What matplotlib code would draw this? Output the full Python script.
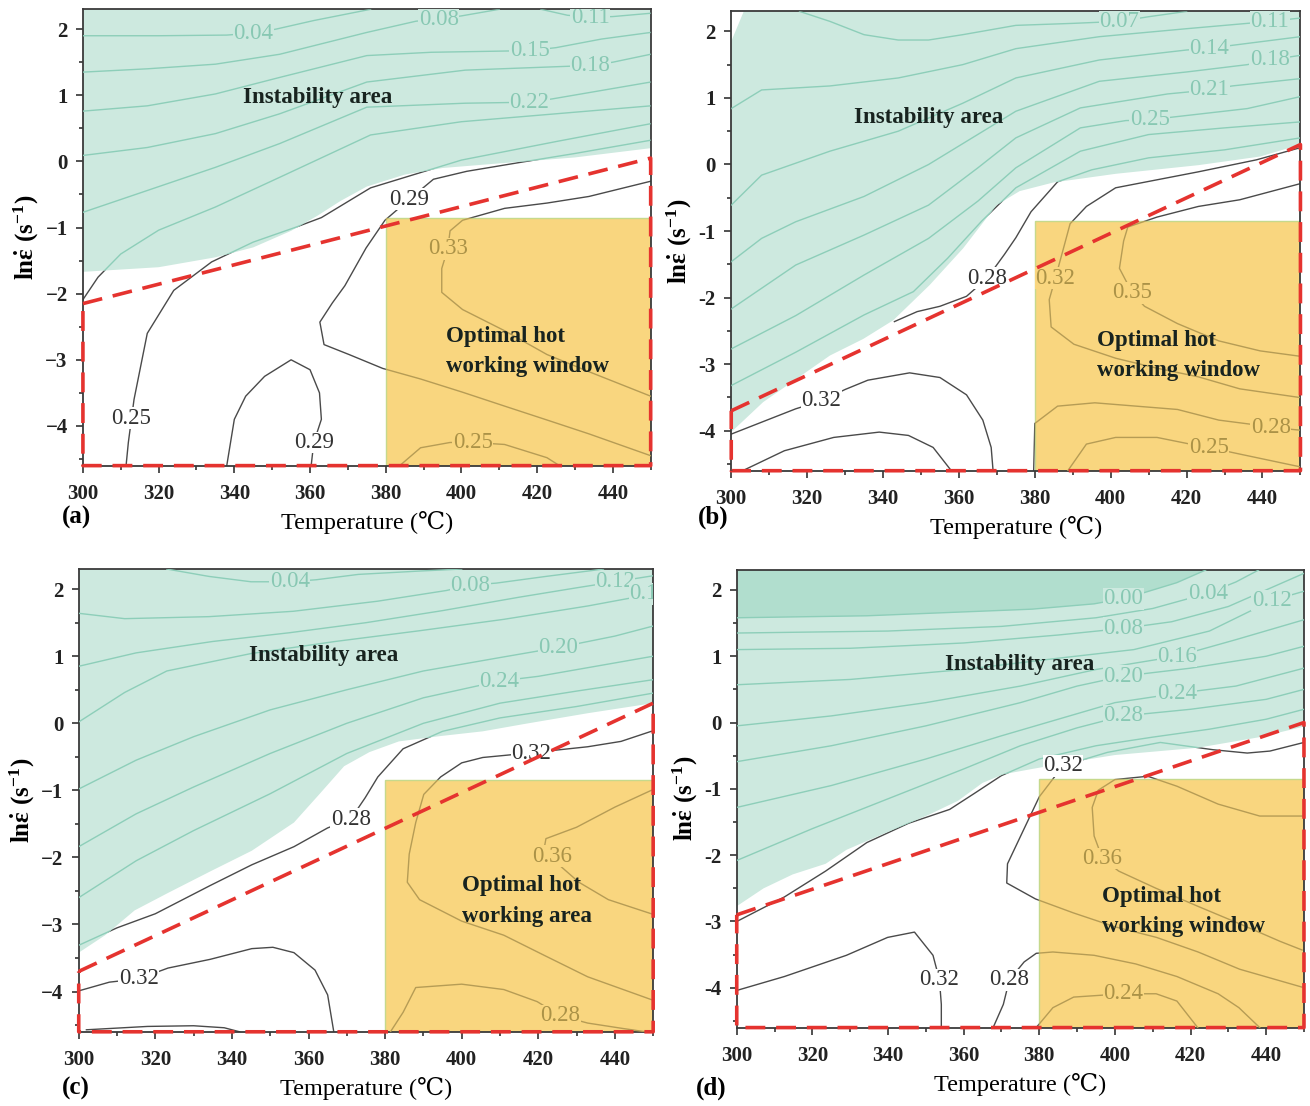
import matplotlib
matplotlib.use('Agg')
import numpy as np
import matplotlib.pyplot as plt
from matplotlib.patches import Polygon, Rectangle
from matplotlib.ticker import MultipleLocator, FuncFormatter

plt.rcParams['font.family'] = ['Liberation Serif', 'DejaVu Serif']
plt.rcParams['mathtext.fontset'] = 'custom'
plt.rcParams['mathtext.rm'] = 'Liberation Serif:bold'
plt.rcParams['mathtext.it'] = 'Liberation Serif:bold'
plt.rcParams['mathtext.bf'] = 'Liberation Serif:bold'

# ---------------- data ----------------
# temperature (C) / ln strain rate pairs for each efficiency contour

window_T = (380, 450)          # optimal hot working window
window_L = (-4.6, -0.85)

# ---- (a)
a_lines = [
    ([300, 320, 338, 345, 351, 361, 376], [1.9, 1.9, 1.91, 1.94, 2.0, 2.13, 2.3]),
    ([300, 317, 335, 352, 375, 388, 394, 400, 410], [1.35, 1.4, 1.47, 1.62, 1.95, 2.12, 2.15, 2.2, 2.3]),
    ([421, 428, 434, 440, 450], [2.3, 2.21, 2.18, 2.19, 2.24]),
    ([300, 317, 335, 352, 375, 392, 418, 425, 437, 450], [0.76, 0.84, 1.02, 1.27, 1.6, 1.65, 1.675, 1.72, 1.85, 1.95]),
    ([300, 317, 335, 352, 375, 401, 429, 434, 440, 450], [0.09, 0.21, 0.42, 0.72, 1.2, 1.38, 1.44, 1.45, 1.5, 1.62]),
    ([300, 317, 335, 352, 375, 401, 418, 424, 450], [-0.77, -0.44, -0.09, 0.27, 0.82, 0.88, 0.895, 0.945, 1.2]),
    ([300, 304, 310, 320, 335, 352, 376, 400, 425, 450], [-2.09, -1.75, -1.4, -1.04, -0.69, -0.24, 0.4, 0.6, 0.72, 0.84]),
    ([311.4, 312, 313.5, 317, 324, 334, 345, 356, 363, 376, 400, 425, 450],
     [-4.6, -4.25, -3.6, -2.6, -1.95, -1.52, -1.22, -1.0, -0.85, -0.4, 0.02, 0.3, 0.57]),
    ([450, 430, 415, 401.4, 392.6, 386.3, 379.8, 374.8, 369.2, 365.9, 362.6, 363.7, 370.3, 379.2, 389.2, 400.3, 411.4, 422.6, 433.7, 450],
     [0.32, 0.12, -0.02, -0.15, -0.27, -0.57, -0.89, -1.31, -1.88, -2.14, -2.43, -2.77, -2.92, -3.13, -3.29, -3.49, -3.7, -3.91, -4.12, -4.45]),
    ([450, 433.7, 422.6, 411.4, 400.3, 397, 396.4, 394.8, 394.8, 400.3, 411.4, 422.6, 433.7, 450],
     [-0.3, -0.53, -0.63, -0.71, -0.89, -1.05, -1.32, -1.62, -1.98, -2.24, -2.56, -2.92, -3.18, -3.55]),
    ([338, 340, 343, 348, 355, 360, 362.5, 363, 361, 360.3], [-4.6, -3.9, -3.55, -3.25, -3.0, -3.15, -3.5, -3.9, -4.25, -4.6]),
    ([383.7, 389.2, 397, 403, 411.4, 422.6, 425.9], [-4.6, -4.33, -4.25, -4.25, -4.28, -4.48, -4.6]),
]
a_teal_T = [300, 320, 335, 345, 355, 362, 368, 375, 385, 395, 410, 430, 450, 450, 300]
a_teal_L = [-1.67, -1.6, -1.45, -1.3, -1.05, -0.82, -0.6, -0.38, -0.2, -0.1, -0.03, 0.06, 0.2, 2.3, 2.3]
a_labels = [('0.04', 345, 1.93, 't'), ('0.08', 394, 2.15, 't'), ('0.11', 434, 2.18, 't'),
            ('0.15', 418, 1.675, 't'), ('0.18', 434, 1.45, 't'), ('0.22', 418, 0.895, 't'),
            ('0.29', 386.3, -0.57, 'w'), ('0.25', 312.8, -3.88, 'w'), ('0.29', 361, -4.25, 'w'),
            ('0.33', 396.4, -1.32, 'o'), ('0.25', 403, -4.25, 'o')]
a_safe_T = [300, 450, 450, 300, 300]
a_safe_L = [-2.15, 0.05, -4.6, -4.6, -2.15]

# ---- (b)
b_lines = [
    ([318, 326, 335, 344, 352, 361, 375, 390, 402.3, 410, 420], [2.3, 2.15, 1.95, 1.87, 1.87, 1.95, 2.09, 2.12, 2.15, 2.22, 2.3]),
    ([300, 308, 326, 344, 361, 375, 397, 420, 436, 441.9, 450], [0.84, 1.12, 1.18, 1.3, 1.5, 1.74, 1.92, 2.04, 2.12, 2.15, 2.2]),
    ([300, 308, 326, 344, 361, 375, 397, 420, 426, 432, 450], [-0.61, -0.16, 0.2, 0.5, 0.92, 1.3, 1.57, 1.72, 1.745, 1.79, 1.92]),
    ([300, 308, 317, 335, 352, 375, 397, 420, 436, 441.9, 450], [-1.46, -1.11, -0.86, -0.48, 0.0, 0.8, 1.25, 1.39, 1.5, 1.57, 1.64]),
    ([300, 317, 335, 352, 365, 375, 392, 415, 426, 432, 450], [-2.17, -1.51, -1.06, -0.61, -0.05, 0.4, 0.85, 1.06, 1.12, 1.18, 1.29]),
    ([300, 317, 335, 352, 365, 375, 392, 404, 410.3, 416, 436, 450], [-2.77, -2.27, -1.66, -1.11, -0.55, -0.05, 0.55, 0.66, 0.67, 0.71, 0.84, 1.02]),
    ([300, 317, 335, 348, 357, 366, 375, 392, 410, 430, 450], [-3.32, -2.82, -2.26, -1.91, -1.41, -0.85, -0.35, 0.2, 0.45, 0.55, 0.64]),
    ([343, 349, 355, 362, 367.4, 372, 375, 379, 386, 395, 410, 430, 450],
     [-2.36, -2.21, -2.13, -1.98, -1.71, -1.35, -1.1, -0.71, -0.26, -0.08, 0.1, 0.22, 0.4]),
    ([300, 308.5, 317, 323.8, 330, 336, 347, 355, 362, 366.3, 368.5, 369],
     [-4.05, -3.86, -3.67, -3.55, -3.38, -3.24, -3.13, -3.2, -3.46, -3.84, -4.25, -4.6]),
    ([303, 314, 327, 339, 346.7, 353.2, 358], [-4.6, -4.3, -4.1, -4.02, -4.07, -4.25, -4.6]),
    ([379.7, 380, 386, 395.8, 406.7, 417.6, 428.5, 439.4, 442.2, 449.8], [-4.6, -3.89, -3.63, -3.58, -3.63, -3.68, -3.84, -3.92, -3.95, -3.99]),
    ([388.7, 393.6, 401.3, 412.2, 420.9, 425.8, 434, 449.8], [-4.6, -4.2, -4.1, -4.1, -4.2, -4.25, -4.35, -4.54]),
    ([449.8, 438.4, 423.1, 401.3, 393.6, 389.3, 387.6, 385.4, 383.8, 384.3, 390.3, 401.3, 412.2, 423.1, 434, 449.8],
     [0.25, 0.07, -0.11, -0.35, -0.63, -0.89, -1.25, -1.71, -2.03, -2.44, -2.7, -2.91, -3.06, -3.19, -3.37, -3.5]),
    ([449.8, 434, 423.1, 412.2, 404.5, 403.4, 402.3, 405.7, 408.9, 417.6, 428.5, 439.4, 449.8],
     [-0.29, -0.53, -0.63, -0.79, -0.94, -1.15, -1.56, -1.93, -2.13, -2.39, -2.65, -2.8, -2.88]),
]
b_teal_T = [300, 308.4, 317.2, 326, 334.8, 342.7, 352.3, 361.1, 369.9, 376, 384.9, 401.3, 423.1, 439.4, 450, 450, 303.3, 300]
b_teal_L = [-4.02, -3.57, -3.22, -2.87, -2.62, -2.34, -1.81, -1.26, -0.61, -0.4, -0.27, -0.14, -0.01, 0.12, 0.3, 2.3, 2.3, 1.85]
b_labels = [('0.07', 402.3, 2.15, 't'), ('0.11', 441.9, 2.15, 't'), ('0.14', 426, 1.745, 't'),
            ('0.18', 441.9, 1.57, 't'), ('0.21', 426, 1.12, 't'), ('0.25', 410.3, 0.67, 't'),
            ('0.28', 367.4, -1.71, 'w'), ('0.32', 323.8, -3.55, 'w'),
            ('0.32', 385.4, -1.71, 'o'), ('0.35', 405.7, -1.93, 'o'), ('0.28', 442.2, -3.95, 'o'),
            ('0.25', 425.8, -4.25, 'o')]
b_safe_T = [300, 450, 450, 300, 300]
b_safe_L = [-3.7, 0.3, -4.6, -4.6, -3.7]

# ---- (c)
c_lines = [
    ([323, 334, 345, 355, 362, 373, 389, 400], [2.3, 2.19, 2.11, 2.11, 2.14, 2.22, 2.27, 2.3]),
    ([300, 312, 334, 356, 378, 396, 402.2, 409, 422, 433, 437], [1.64, 1.56, 1.59, 1.67, 1.82, 1.98, 2.06, 2.09, 2.19, 2.27, 2.3]),
    ([300, 315, 335, 355, 375, 395, 415, 430, 440, 450], [0.85, 1.05, 1.22, 1.35, 1.5, 1.68, 1.88, 2.02, 2.11, 2.2]),
    ([300, 312, 323, 345, 367, 389, 411, 433, 450], [0.02, 0.46, 0.78, 1.04, 1.22, 1.38, 1.55, 1.75, 1.93]),
    ([300, 315, 330, 350, 370, 390, 410, 425.2, 440, 450], [-0.98, -0.55, -0.2, 0.2, 0.5, 0.78, 0.98, 1.13, 1.3, 1.45]),
    ([300, 315, 330, 350, 370, 390, 409.9, 420, 435, 450], [-1.84, -1.35, -0.95, -0.45, 0.0, 0.38, 0.63, 0.7, 0.85, 1.0]),
    ([300, 315, 330, 350, 370, 390, 410, 430, 450], [-2.6, -2.05, -1.6, -1.05, -0.45, 0.0, 0.3, 0.48, 0.65]),
    ([300, 310, 320, 334.3, 345.2, 356.2, 365, 371, 374.8, 378.1, 384.7, 395, 410, 430, 450],
     [-3.31, -3.05, -2.84, -2.42, -2.11, -1.84, -1.56, -1.43, -1.11, -0.8, -0.38, -0.12, 0.08, 0.25, 0.45]),
    ([449.5, 441.6, 432.9, 418.1, 411, 405.5, 400, 394.5, 390.1, 388, 386.3, 385.8, 389, 400, 411, 421.9, 432.9, 449.5],
     [-0.12, -0.27, -0.35, -0.44, -0.48, -0.51, -0.59, -0.8, -1.06, -1.48, -1.95, -2.37, -2.63, -2.95, -3.16, -3.47, -3.78, -4.12]),
    ([449.5, 440, 430, 422, 421.5, 424, 430.6, 438.3, 449.5], [-1.0, -1.25, -1.55, -1.72, -1.88, -2.04, -2.37, -2.63, -2.84]),
    ([300, 308, 315.7, 323.3, 334.3, 345.2, 350.7, 356.2, 361.7, 365, 366.6],
     [-3.99, -3.86, -3.81, -3.65, -3.52, -3.36, -3.34, -3.42, -3.68, -4.05, -4.6]),
    ([302, 318, 330, 338, 342], [-4.57, -4.52, -4.51, -4.54, -4.6]),
    ([381.4, 384.7, 388, 400, 411, 419.7, 425.7, 432.9, 442, 448], [-4.6, -4.31, -3.94, -3.89, -3.97, -4.15, -4.36, -4.47, -4.55, -4.6]),
]
c_teal_T = [300, 306.9, 314.6, 323.3, 334.3, 345.2, 356.2, 362.8, 369.3, 375.9, 383.6, 394.5, 405.5, 416.4, 432.9, 450, 450, 300]
c_teal_L = [-3.42, -3.16, -2.79, -2.53, -2.21, -1.9, -1.48, -1.06, -0.64, -0.43, -0.27, -0.19, -0.12, -0.01, 0.15, 0.3, 2.3, 2.3]
c_labels = [('0.04', 355.1, 2.11, 't'), ('0.08', 402.2, 2.06, 't'), ('0.12', 440, 2.11, 't'),
            ('0.16', 449.0, 1.93, 't'), ('0.20', 425.2, 1.13, 't'), ('0.24', 409.9, 0.63, 't'),
            ('0.32', 418.1, -0.45, 'w'), ('0.28', 371, -1.43, 'w'), ('0.32', 315.7, -3.81, 'w'),
            ('0.36', 423.5, -1.98, 'o'), ('0.28', 425.7, -4.36, 'o')]
c_safe_T = [300, 450, 450, 300, 300]
c_safe_L = [-3.7, 0.3, -4.6, -4.6, -3.7]

# ---- (d)
d_lines = [
    ([300, 334.4, 356.3, 378.1, 394.5, 402.2, 405.5, 416.4, 424], [1.58, 1.61, 1.66, 1.71, 1.79, 1.87, 1.92, 2.11, 2.3]),
    ([300, 340, 370, 395, 410, 424.6, 432, 438], [1.35, 1.38, 1.45, 1.58, 1.72, 1.95, 2.12, 2.3]),
    ([300, 330, 360, 385, 402.2, 415, 430, 442, 450], [1.1, 1.12, 1.2, 1.32, 1.42, 1.52, 1.75, 2.05, 2.25]),
    ([300, 330, 360, 385, 405, 425, 441.5, 450], [0.57, 0.65, 0.8, 0.97, 1.1, 1.38, 1.84, 1.98]),
    ([300, 325, 350, 375, 395, 416.4, 432, 450], [-0.05, 0.1, 0.3, 0.55, 0.8, 1.0, 1.25, 1.55]),
    ([300, 325, 350, 375, 390, 402.2, 420, 440, 450], [-0.59, -0.35, -0.05, 0.3, 0.55, 0.7, 0.82, 1.0, 1.15]),
    ([300, 325, 350, 370, 385, 400, 416.4, 432, 450], [-1.28, -0.95, -0.55, -0.2, 0.05, 0.3, 0.44, 0.55, 0.82]),
    ([300, 320, 340, 360, 375, 390, 402.2, 420, 440, 450], [-2.08, -1.6, -1.15, -0.7, -0.35, -0.08, 0.1, 0.2, 0.35, 0.5]),
    ([300, 312.6, 323.5, 334.4, 345.4, 356.3, 362.8, 370, 380, 395, 410, 425, 440, 450],
     [-3.0, -2.63, -2.24, -1.81, -1.52, -1.31, -1.07, -0.8, -0.55, -0.35, -0.22, -0.1, 0.05, 0.2]),
    ([450, 441, 435, 426, 412, 398, 386.3, 380, 376, 371.6, 371.4, 379, 389, 400, 411, 422, 433, 449.5],
     [-0.3, -0.43, -0.46, -0.41, -0.3, -0.45, -0.65, -1.12, -1.6, -2.13, -2.42, -2.66, -2.87, -3.08, -3.24, -3.46, -3.72, -3.99]),
    ([449.5, 438.3, 427.3, 416.4, 408.7, 400, 395.6, 394, 394.5, 396.7, 401, 410.9, 421.9, 432.8, 443.7, 449.5],
     [-1.41, -1.41, -1.23, -0.96, -0.81, -0.86, -1.02, -1.28, -1.71, -2.05, -2.24, -2.5, -2.77, -3.03, -3.3, -3.43]),
    ([300, 312.6, 329, 339.9, 347, 351.9, 353.6, 354.1, 354.1], [-4.04, -3.83, -3.51, -3.24, -3.16, -3.51, -3.88, -4.25, -4.6]),
    ([367.8, 370.5, 372.1, 376, 379.2, 383.6, 394.5, 405.5, 416.4, 427.3, 432.8, 438.3],
     [-4.6, -4.25, -3.88, -3.61, -3.48, -3.46, -3.51, -3.64, -3.83, -4.09, -4.3, -4.6]),
    ([379.2, 383.6, 389.1, 402.2, 410.9, 416.4, 421.9], [-4.6, -4.3, -4.14, -4.09, -4.09, -4.2, -4.6]),
]
d_teal_T = [300, 307.1, 314.8, 323.5, 329, 339.9, 350.8, 358.5, 365, 370.5, 378.1, 389.1, 400, 421.9, 438.3, 450, 450, 300]
d_teal_L = [-2.77, -2.5, -2.29, -2.13, -1.92, -1.65, -1.39, -1.18, -0.91, -0.78, -0.7, -0.59, -0.49, -0.38, -0.22, -0.06, 2.3, 2.3]
d_dark_T = [300, 334.4, 356.3, 378.1, 394.5, 405.5, 416.4, 424, 300]
d_dark_L = [1.58, 1.61, 1.66, 1.71, 1.79, 1.92, 2.11, 2.3, 2.3]
d_labels = [('0.00', 402.2, 1.87, 't'), ('0.04', 424.6, 1.95, 't'), ('0.12', 441.5, 1.84, 't'),
            ('0.08', 402.2, 1.42, 't'), ('0.16', 416.4, 1.0, 't'), ('0.20', 402.2, 0.7, 't'),
            ('0.24', 416.4, 0.44, 't'), ('0.28', 402.2, 0.1, 't'),
            ('0.32', 386.3, -0.65, 'w'), ('0.32', 353.6, -3.88, 'w'), ('0.28', 372.1, -3.88, 'w'),
            ('0.36', 396.7, -2.05, 'o'), ('0.24', 402.2, -4.09, 'o')]
d_safe_T = [300, 450, 450, 300, 300]
d_safe_L = [-2.9, 0.0, -4.6, -4.6, -2.9]

# ---------------- style ----------------
GRAY = '#4a4a4a'
TEAL_FILL = '#cde9df'
TEAL_DARK = '#b1dece'
TEAL_LINE = '#8dceb9'
TEAL_TEXT = '#88c8b3'
ORANGE_FILL = '#f9d67f'
ORANGE_LINE = '#b69c55'
ORANGE_TEXT = '#ab9247'
RED = '#e5332f'
INK = '#18231f'

bg = {'w': 'white', 't': TEAL_FILL, 'o': ORANGE_FILL}
fg = {'w': '#333333', 't': TEAL_TEXT, 'o': ORANGE_TEXT}


def draw_panel(ax, lines, teal_T, teal_L, labels, safe_T, safe_L,
               inst_xy, opt_xy, opt_words, minus, dark=None):
    ax.set_xlim(300, 450)
    ax.set_ylim(-4.6, 2.3)

    # contours (gray, seen in the white zone)
    for T, L in lines:
        ax.plot(T, L, color=GRAY, lw=1.0, zorder=1)

    teal = Polygon(np.column_stack([teal_T, teal_L]), closed=True,
                   fc=TEAL_FILL, ec='none', zorder=2)
    ax.add_patch(teal)
    if dark is not None:
        ax.add_patch(Polygon(np.column_stack(dark), closed=True,
                             fc=TEAL_DARK, ec='none', zorder=2.1))
    win = Rectangle((window_T[0], window_L[0]), window_T[1] - window_T[0],
                    window_L[1] - window_L[0], fc=ORANGE_FILL, ec='#c6d98c',
                    lw=1.0, zorder=2)
    ax.add_patch(win)

    # same contours tinted where they run under the two zones
    for T, L in lines:
        ln, = ax.plot(T, L, color=TEAL_LINE, lw=1.0, zorder=3)
        ln.set_clip_path(teal)
        ln, = ax.plot(T, L, color=ORANGE_LINE, lw=1.0, zorder=3)
        ln.set_clip_path(win)

    for txt, T, L, reg in labels:
        ax.text(T, L, txt, fontsize=16.5, color=fg[reg], ha='center', va='center',
                zorder=4, clip_on=True,
                bbox=dict(boxstyle='square,pad=0.02', fc=bg[reg], ec='none'))

    ax.plot(safe_T, safe_L, color=RED, lw=2.6, ls=(0, (5.5, 3.0)),
            zorder=5, clip_on=False)

    ax.text(inst_xy[0], inst_xy[1], 'Instability area', fontsize=16.5,
            fontweight='bold', color=INK, ha='center', va='center', zorder=6)
    ax.text(opt_xy[0], opt_xy[1], 'Optimal hot', fontsize=16.5,
            fontweight='bold', color=INK, ha='left', va='center', zorder=6)
    ax.text(opt_xy[0], opt_xy[2], opt_words, fontsize=16.5,
            fontweight='bold', color=INK, ha='left', va='center', zorder=6)

    ax.set_xticks(range(300, 441, 20))
    ax.xaxis.set_minor_locator(MultipleLocator(10))
    ax.set_yticks(range(-4, 3))
    ax.yaxis.set_minor_locator(MultipleLocator(0.5))
    ax.yaxis.set_major_formatter(FuncFormatter(lambda v, p: ('%d' % v).replace('-', minus)))
    ax.tick_params(which='both', direction='out', width=1.1, colors='#222222',
                   labelsize=15)
    ax.tick_params(which='major', length=5)
    ax.tick_params(which='minor', length=3)
    ax.tick_params(axis='x', which='major', pad=8)
    ax.tick_params(axis='y', which='major', pad=6)
    for lbl in ax.get_xticklabels() + ax.get_yticklabels():
        lbl.set_fontweight('bold')
    for s in ax.spines.values():
        s.set_color('#3a3a3a')
        s.set_linewidth(1.3)

    ax.set_xlabel('Temperature (\u2103)', fontsize=17.5, labelpad=5)
    ax.set_ylabel(r'$\mathrm{ln}\dot{\mathrm{\varepsilon}}\ \mathrm{(s^{-1})}$',
                  fontsize=18, labelpad=3)


fig = plt.figure(figsize=(13.1, 11.06), dpi=100)
ax_a = fig.add_axes([0.0633, 0.5790, 0.4334, 0.4126])
ax_b = fig.add_axes([0.5582, 0.5744, 0.4345, 0.4153])
ax_c = fig.add_axes([0.0601, 0.0671, 0.4385, 0.4184])
ax_d = fig.add_axes([0.5624, 0.0709, 0.4330, 0.4137])

draw_panel(ax_a, a_lines, a_teal_T, a_teal_L, a_labels, a_safe_T, a_safe_L,
           (362, 0.96), (395.9, -2.64, -3.10), 'working window', '\u2212')
draw_panel(ax_b, b_lines, b_teal_T, b_teal_L, b_labels, b_safe_T, b_safe_L,
           (352, 0.71), (396.3, -2.65, -3.10), 'working window', '-')
draw_panel(ax_c, c_lines, c_teal_T, c_teal_L, c_labels, c_safe_T, c_safe_L,
           (363.9, 1.01), (400, -2.42, -2.88), 'working area', '\u2212')
draw_panel(ax_d, d_lines, d_teal_T, d_teal_L, d_labels, d_safe_T, d_safe_L,
           (374.9, 0.88), (396.5, -2.63, -3.08), 'working window', '-',
           dark=(d_dark_T, d_dark_L))

for x, y, tag in [(0.047, 0.532, '(a)'), (0.533, 0.532, '(b)'),
                  (0.047, 0.016, '(c)'), (0.531, 0.016, '(d)')]:
    fig.text(x, y, tag, fontsize=18, fontweight='bold', ha='left', va='center')

fig.savefig('out.png', dpi=100)
